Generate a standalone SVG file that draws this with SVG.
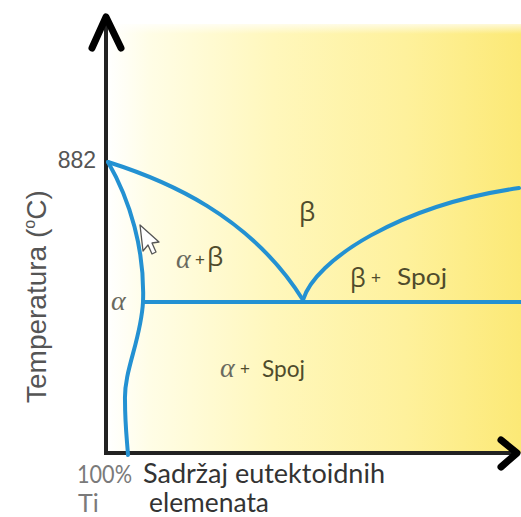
<svg xmlns="http://www.w3.org/2000/svg" width="521" height="517" viewBox="0 0 521 517">
<defs>
<linearGradient id="bg" x1="108" y1="0" x2="521" y2="0" gradientUnits="userSpaceOnUse">
<stop offset="0" stop-color="#ffffff"/>
<stop offset="0.1" stop-color="#fffde6"/>
<stop offset="0.4" stop-color="#fff7bc"/>
<stop offset="0.72" stop-color="#fef19c"/>
<stop offset="1" stop-color="#fce976"/>
</linearGradient>
<linearGradient id="topfade" x1="0" y1="20" x2="0" y2="34" gradientUnits="userSpaceOnUse">
<stop offset="0" stop-color="#ffffff" stop-opacity="1"/>
<stop offset="1" stop-color="#ffffff" stop-opacity="0"/>
</linearGradient>
</defs>
<style>
.curve{fill:none;stroke:#2391d2;stroke-width:4;stroke-linecap:round;stroke-linejoin:round}
.axis{fill:none;stroke:#222;stroke-width:4}
.head{fill:none;stroke:#000;stroke-width:7;stroke-linecap:round;stroke-linejoin:round}
.lbl{font-family:"Lato","Open Sans","Liberation Sans",sans-serif;fill:#4f4b2c}
.gr{font-family:"Open Sans","DejaVu Sans",sans-serif;font-weight:500;fill:#4f4b2c}
.al{font-family:"Liberation Serif","DejaVu Serif",serif;font-style:italic;fill:#6a6a60}
.pl{font-family:"Liberation Sans",sans-serif;fill:#4f4b2c}
.ar{font-family:"Liberation Sans",Arial,sans-serif;fill:#555}
.bt{font-family:"Lato","Open Sans",sans-serif}
</style>
<rect x="0" y="0" width="521" height="517" fill="#ffffff"/>
<rect id="plot-area" x="108" y="24" width="413" height="429" fill="url(#bg)"/>
<rect x="108" y="20" width="413" height="14" fill="url(#topfade)"/>

<g id="axes">
<line class="axis" x1="106" y1="20" x2="106" y2="455"/>
<line class="axis" x1="104" y1="453" x2="515" y2="453"/>
<polyline class="head" points="92,48 106,17 121,48"/>
<polyline class="head" points="501,440 517,453 501,467"/>
</g>

<g id="connectors">
<path id="alpha-boundary" class="curve" d="M108,162 C130,200 145,250 143,302 C141,340 124,370 125,400 C125,425 127,440 128,455"/>
<path id="beta-transus" class="curve" d="M108,162 C165,180 250,215 303,300"/>
<path id="beta-solvus" class="curve" d="M303,300 C315,260 400,205 519,188"/>
<path id="eutectoid-line" class="curve" d="M143,302 H521"/>
</g>

<g id="cursor">
<polygon points="140,225 143,251 148,245 152,254 156,252 152,243 159,242" fill="#ffffff" stroke="#555" stroke-width="1.3" stroke-linejoin="round"/>
</g>

<g id="label-882">
<text class="ar" x="96" y="168" font-size="23" text-anchor="end">882</text>
</g>

<g id="label-temperature">
<text class="ar" transform="translate(46,403) rotate(-90)" font-size="28">Temperatura (<tspan font-size="16" dy="-11">o</tspan><tspan dy="11">C)</tspan></text>
</g>

<g id="region-beta">
<text class="gr" x="299" y="221" font-size="26">β</text>
</g>

<g id="region-alpha-beta">
<text class="al" x="176" y="268" font-size="28">α</text>
<text class="pl" x="195" y="265" font-size="17">+</text>
<text class="gr" x="207" y="266" font-size="26">β</text>
</g>

<g id="region-beta-spoj">
<text class="gr" x="350" y="287" font-size="25">β</text>
<text class="pl" x="371" y="283" font-size="17">+</text>
<text class="lbl" x="397" y="285" font-size="23" textLength="50" lengthAdjust="spacingAndGlyphs">Spoj</text>
</g>

<g id="region-alpha">
<text class="al" x="111" y="310" font-size="28" fill="#777">α</text>
</g>

<g id="region-alpha-spoj">
<text class="al" x="220" y="377" font-size="28">α</text>
<text class="pl" x="240" y="374" font-size="17">+</text>
<text class="lbl" x="262" y="377" font-size="24" textLength="43" lengthAdjust="spacingAndGlyphs">Spoj</text>
</g>

<g id="label-ti">
<text class="bt" x="77" y="483" font-size="25" fill="#7a7a7a" textLength="55" lengthAdjust="spacingAndGlyphs">100%</text>
<text class="bt" x="78" y="512" font-size="25" fill="#7a7a7a">Ti</text>
</g>

<g id="label-x">
<text class="bt" x="143" y="483" font-size="26" fill="#333" textLength="242" lengthAdjust="spacingAndGlyphs">Sadržaj eutektoidnih</text>
<text class="bt" x="149" y="512" font-size="26" fill="#333" textLength="120" lengthAdjust="spacingAndGlyphs">elemenata</text>
</g>
</svg>
